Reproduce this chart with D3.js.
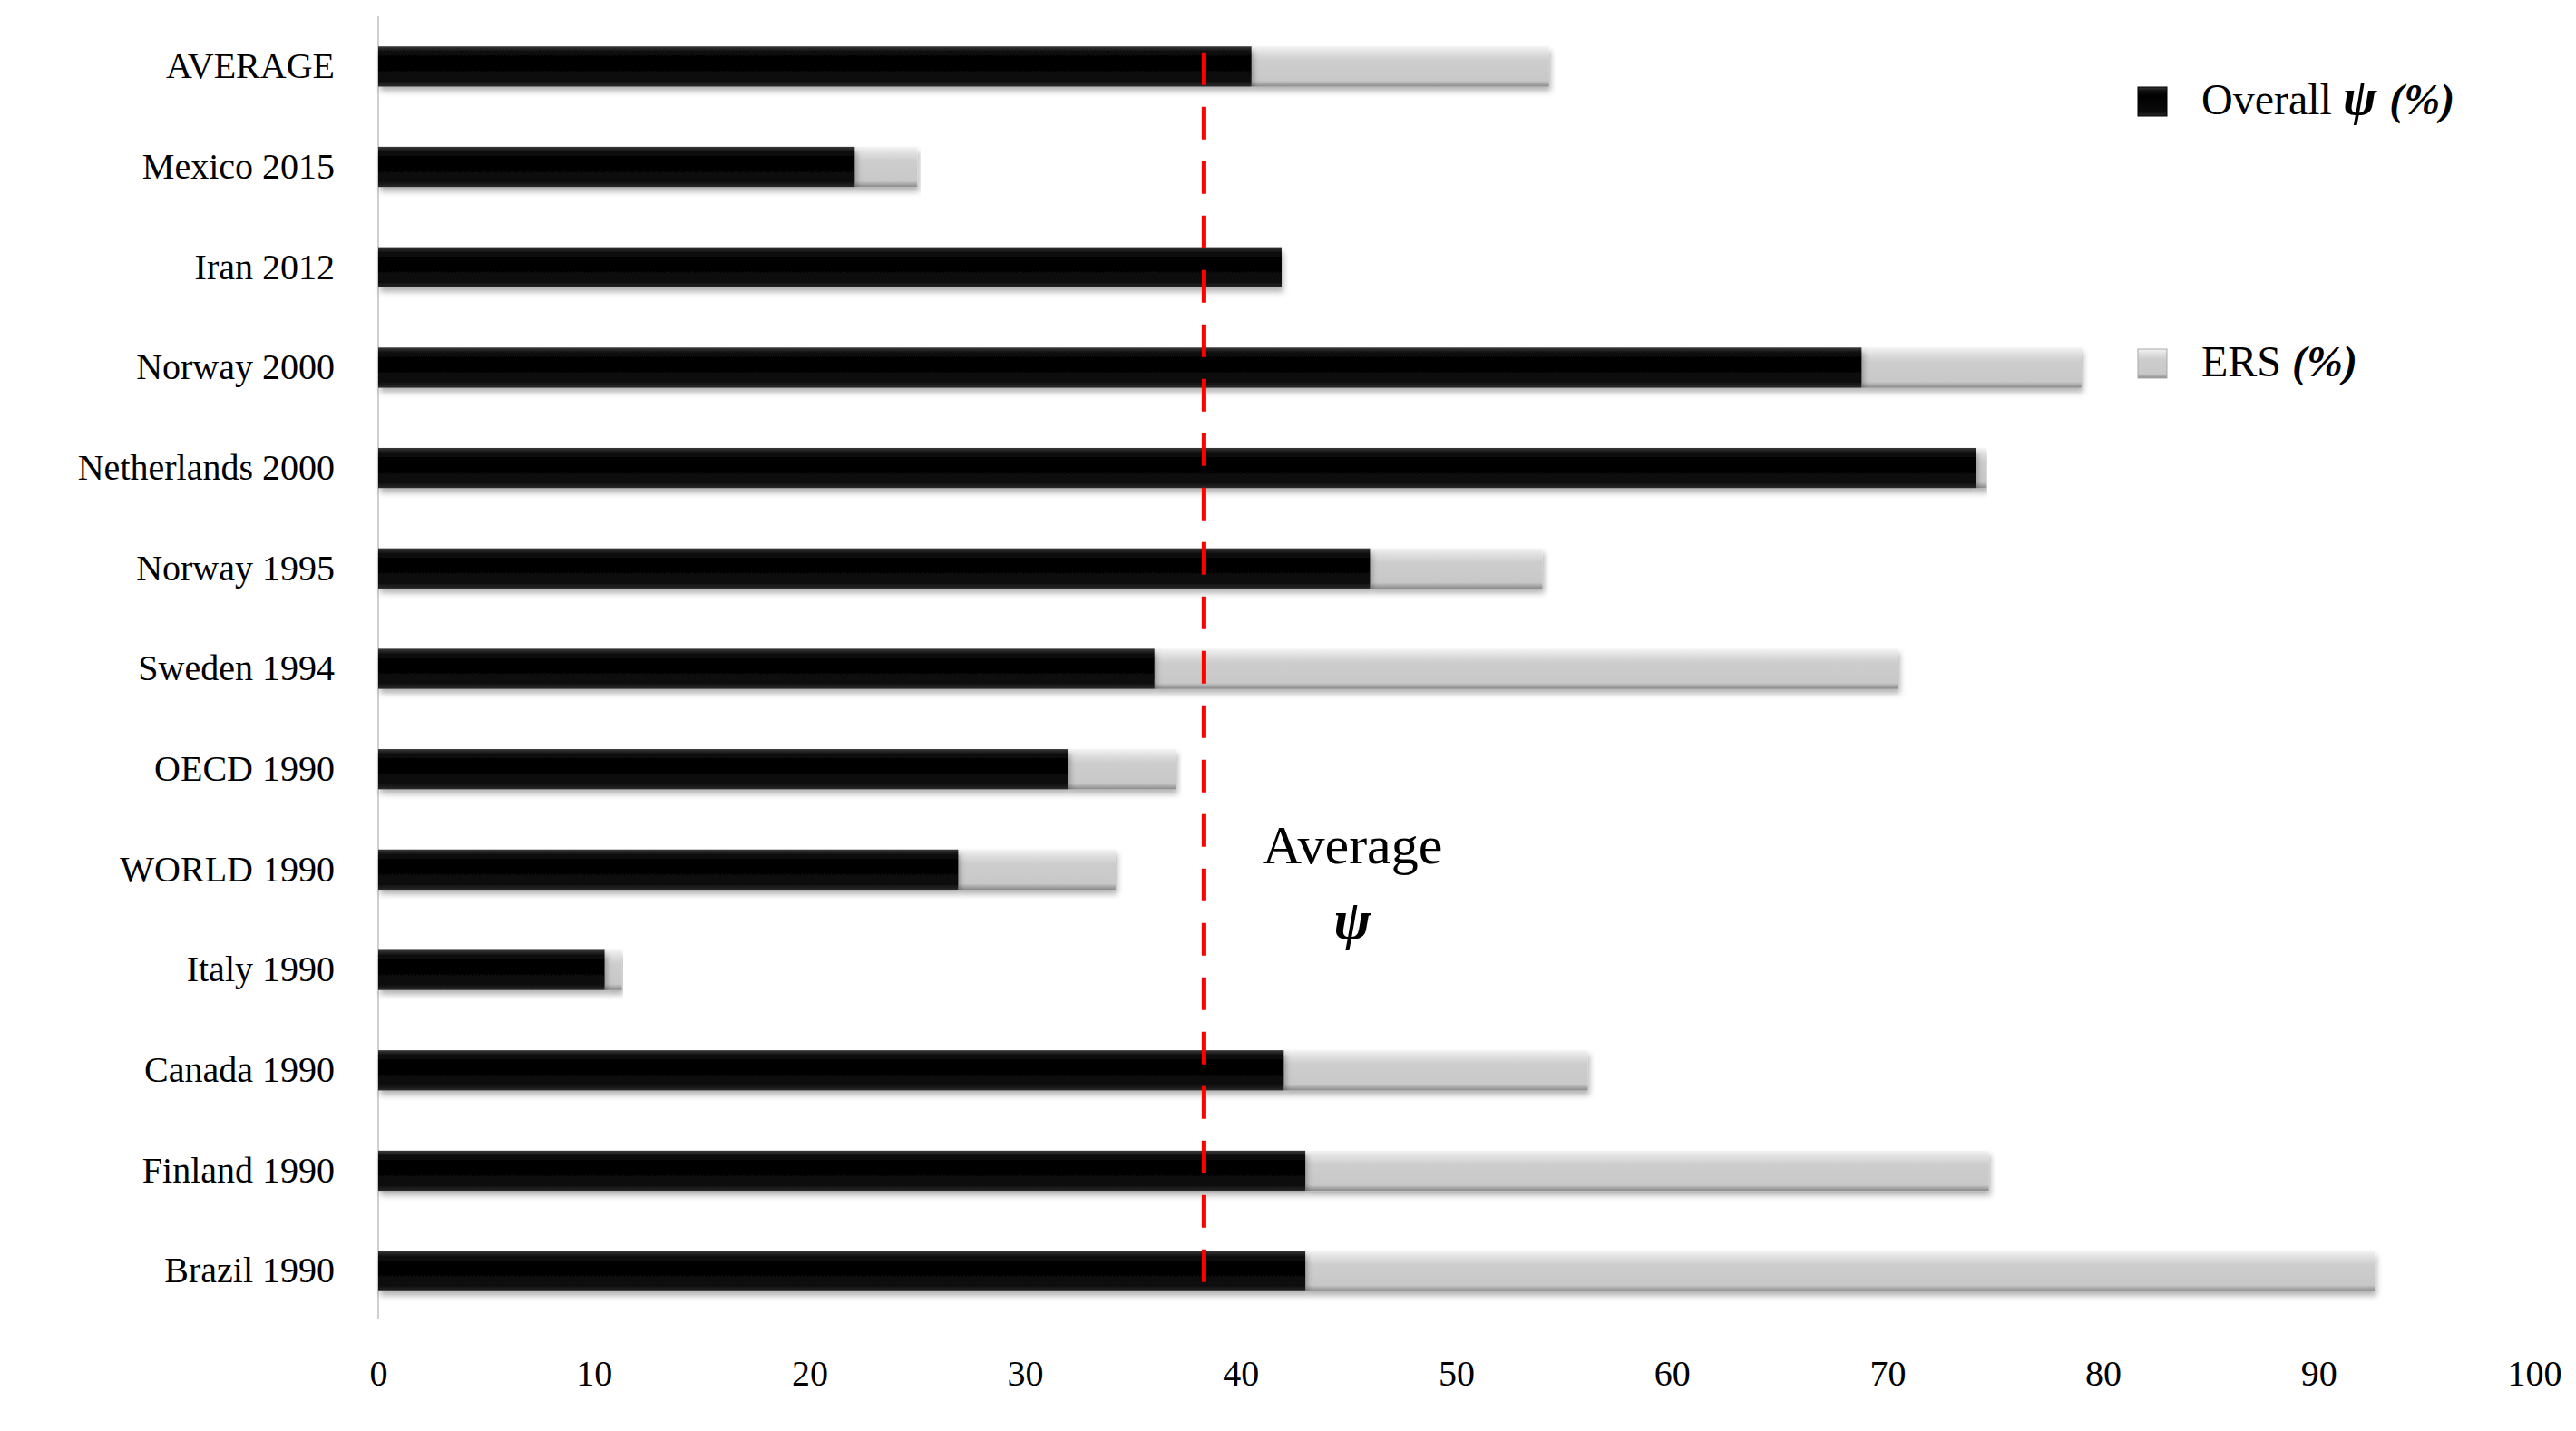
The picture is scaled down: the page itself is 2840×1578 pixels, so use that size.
<!DOCTYPE html>
<html><head><meta charset="utf-8">
<script src="https://cdn.jsdelivr.net/npm/d3@7"></script>
<style>body{margin:0;background:#fff}svg{display:block}</style>
</head><body>
<script>
const categories = ["AVERAGE","Mexico 2015","Iran 2012","Norway 2000","Netherlands 2000","Norway 1995","Sweden 1994","OECD 1990","WORLD 1990","Italy 1990","Canada 1990","Finland 1990","Brazil 1990"];
const overall = [40.5,22.1,41.9,68.8,74.1,46.0,36.0,32.0,26.9,10.5,42.0,43.0,43.0];
const total   = [54.3,25.0,41.9,79.0,74.6,54.0,70.5,37.0,34.2,11.3,56.1,74.7,92.6];
const averagePsi = 38.3;
const xTicks = [0,10,20,30,40,50,60,70,80,90,100];

const W=2840,H=1578;
const svg=d3.select("body").append("svg").attr("width",W).attr("height",H);
const font="'Liberation Serif','DejaVu Serif',serif";
const x=d3.scaleLinear().domain([0,100]).range([417,2794]);
const y=d3.scaleBand().domain(categories).range([18,1457]).paddingInner(0.6).paddingOuter(0.3);

const defs=svg.append("defs");
function grad(id,stops){const g=defs.append("linearGradient").attr("id",id).attr("x1",0).attr("x2",0).attr("y1",0).attr("y2",1);
 stops.forEach(s=>g.append("stop").attr("offset",s[0]).attr("stop-color",s[1]));}
grad("gb",[[0,"#3a3a3a"],[0.12,"#111"],[0.3,"#000"],[0.85,"#0b0b0b"],[1,"#2a2a2a"]]);
grad("gg",[[0,"#f4f4f4"],[0.15,"#e0e0e0"],[0.35,"#cdcdcd"],[0.85,"#c8c8c8"],[1,"#8a8a8a"]]);
const sh=defs.append("filter").attr("id","sh").attr("x","-5%").attr("y","-30%").attr("width","110%").attr("height","170%");
sh.append("feDropShadow").attr("dx",2).attr("dy",5).attr("stdDeviation",3).attr("flood-color","#000").attr("flood-opacity",0.3);

svg.append("line").attr("x1",x(0)).attr("x2",x(0)).attr("y1",18).attr("y2",1455).attr("stroke","#d0d0d0").attr("stroke-width",2);

const g=svg.append("g");
categories.forEach((c,i)=>{
  if(total[i]>overall[i]) g.append("rect").attr("x",x(overall[i])).attr("y",y(c)).attr("width",x(total[i])-x(overall[i])).attr("height",y.bandwidth()).attr("fill","url(#gg)").attr("filter","url(#sh)");
  g.append("rect").attr("x",x(0)).attr("y",y(c)).attr("width",x(overall[i])-x(0)).attr("height",y.bandwidth()).attr("fill","url(#gb)").attr("filter","url(#sh)");
});

const ya=svg.append("g").attr("transform",`translate(${x(0)-48},0)`).call(d3.axisLeft(y).tickSize(0).tickPadding(0));
ya.select(".domain").remove();
ya.selectAll("text").attr("font-family",font).attr("font-size",40).attr("fill","#000");

const xa=svg.append("g").attr("transform","translate(0,1500)").call(d3.axisBottom(x).tickValues(xTicks).tickSize(0).tickPadding(0));
xa.select(".domain").remove();
xa.selectAll("text").attr("font-family",font).attr("font-size",40).attr("fill","#000").attr("dy","0.71em");

svg.append("line").attr("x1",x(averagePsi)).attr("x2",x(averagePsi)).attr("y1",y("AVERAGE")+y.bandwidth()*0.15).attr("y2",1430)
  .attr("stroke","#ff0000").attr("stroke-width",5).attr("stroke-dasharray","36,24");

svg.append("text").attr("x",1491).attr("y",952).attr("text-anchor","middle").attr("font-family",font).attr("font-size",60).text("Average");
svg.append("text").attr("x",1491).attr("y",1035).attr("text-anchor","middle").attr("font-family",font).attr("font-size",62).attr("font-style","italic").attr("font-weight","bold").text("ψ");

const leg=[{y:112,fill:"url(#gb)",label:"Overall",sym:"ψ"},{y:401,fill:"url(#gg)",label:"ERS",sym:null}];
leg.forEach(l=>{
  svg.append("rect").attr("x",2357).attr("y",l.y-16).attr("width",32).attr("height",32).attr("fill",l.fill).attr("stroke",l.sym?"#000":"#aaa");
  const t=svg.append("text").attr("x",2427).attr("y",l.y+14).attr("font-family",font).attr("font-size",48);
  t.append("tspan").text(l.label+"  ");
  if(l.sym) t.append("tspan").attr("font-style","italic").attr("font-weight","bold").attr("font-size",56).text("ψ ");
  t.append("tspan").attr("font-style","italic").attr("font-weight","bold").text(" (%)");
});
</script>
</body></html>
